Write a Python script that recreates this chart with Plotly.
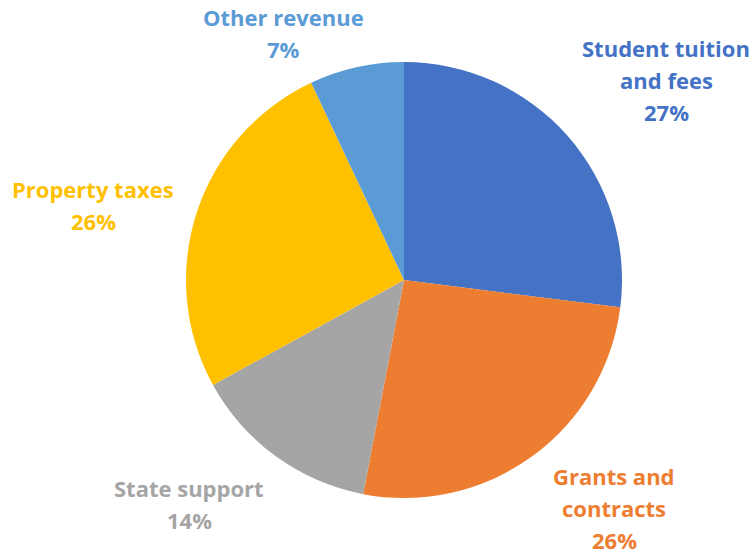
import plotly.graph_objects as go

categories = ["Student tuition and fees", "Grants and contracts", "State support", "Property taxes", "Other revenue"]
values = [27, 26, 14, 26, 7]
colors = ["#4472C4", "#ED7D31", "#A5A5A5", "#FFC000", "#5B9BD5"]
label_lines = [["Student tuition", "and fees"], ["Grants and", "contracts"], ["State support"], ["Property taxes"], ["Other revenue"]]
# label centre positions in page pixels (x, y from top)
label_px = [(666, 80), (614, 508), (189, 504), (93, 205), (283, 33)]

W, H = 753, 554
cx, cy, r = 404, 280, 218
fig = go.Figure(go.Pie(
    labels=categories, values=values, sort=False, direction="clockwise", rotation=0,
    marker=dict(colors=colors, line=dict(width=0)),
    textinfo="none", hoverinfo="label+percent", showlegend=False,
    domain=dict(x=[(cx - r) / W, (cx + r) / W], y=[(H - cy - r) / H, (H - cy + r) / H]),
))

total = sum(values)
LS = 32
for lines, v, c, (px, py) in zip(label_lines, values, colors, label_px):
    all_lines = lines + [f"{round(100 * v / total)}%"]
    n = len(all_lines)
    for i, t in enumerate(all_lines):
        y = py + (i - (n - 1) / 2) * LS
        fig.add_annotation(
            x=px / W, y=1 - y / H, xref="paper", yref="paper", showarrow=False,
            text=f"<b>{t}</b>",
            font=dict(family="Open Sans", size=22, color=c), align="center",
            xanchor="center", yanchor="middle",
        )

fig.update_layout(width=W, height=H, margin=dict(l=0, r=0, t=0, b=0),
                  paper_bgcolor="white", plot_bgcolor="white")
fig.write_html("out.html", config={"displayModeBar": False},
               post_script="document.body.style.margin='0';document.body.style.overflow='hidden';")
